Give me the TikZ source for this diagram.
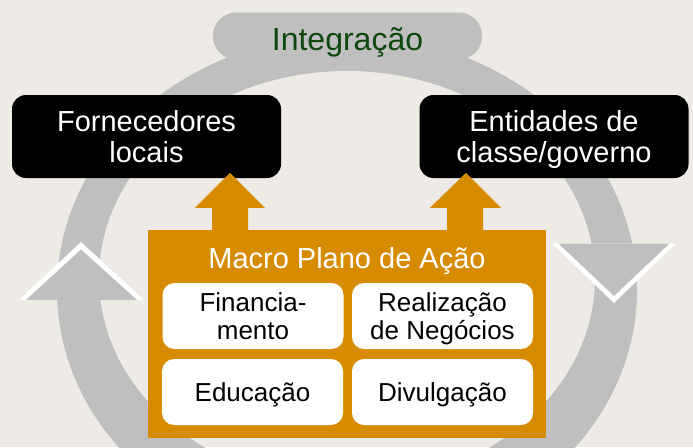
\documentclass[tikz,border=0pt]{standalone}
\usepackage{fontspec}
\setmainfont{Liberation Sans}
\usetikzlibrary{calc}
\definecolor{bg}{RGB}{238,235,230}
\definecolor{ringgray}{RGB}{191,191,191}
\definecolor{org}{RGB}{214,139,0}
\definecolor{dkgreen}{RGB}{12,72,12}
\newcommand\tp{\rule{0pt}{0.95em}}
\newcommand\bt{\rule[-0.234em]{0pt}{0.234em}}
\begin{document}
\begin{tikzpicture}[x=1pt,y=-1pt,
  blackbox/.style={fill=black, rounded corners=14pt, minimum width=269pt, minimum height=83pt, inner sep=0pt, text=white, align=center, font=\fontsize{29}{31}\selectfont},
  whitebox/.style={fill=white, rounded corners=12pt, minimum width=181pt, minimum height=66pt, inner sep=0pt, text=black, align=center, font=\fontsize{26}{27.6}\selectfont},
  pill/.style={fill=ringgray, rounded corners=23pt, minimum width=269pt, minimum height=47pt, inner sep=0pt, text=dkgreen, font=\fontsize{32}{36}\selectfont},
  orangebox/.style={fill=org, minimum width=398pt, minimum height=208pt, inner sep=0pt},
  titletext/.style={text=white, inner sep=0pt, font=\fontsize{29}{31}\selectfont},
  blockarrow/.style={fill=org}
]
\useasboundingbox (0,0) rectangle (693,447);
\clip (0,0) rectangle (693,447);
\fill[bg] (0,0) rectangle (693,447);
% ring
\fill[ringgray, even odd rule] (347,290) ellipse [x radius=290, y radius=255]
                               (347,278) ellipse [x radius=248, y radius=207];
% arrowheads of the ring
\fill[white] (19,300) -- (81,242) -- (144,300) -- cycle;
\fill[ringgray] (26,300) -- (81,249.5) -- (137,300) -- cycle;
\fill[white] (552,243.5) -- (676,243.5) -- (614,303) -- cycle;
\fill[ringgray] (558.5,243.5) -- (669.5,243.5) -- (614,296) -- cycle;
% top label
\node[pill] (integ) at (347.5,36) {\rule{0pt}{1.1em}Integração\rule[-0.22em]{0pt}{0.22em}};
% black boxes
\node[blackbox] (forn) at (146.5,136.5) {\tp Fornecedores\\locais\bt};
\node[blackbox] (ent) at (554,136.5) {\tp Entidades de\\classe/governo\bt};
% orange box
\node[orangebox] (plano) at (347,334) {};
\fill[blockarrow] ([xshift=-135pt]plano.north) -- ++(0,-22) -- ++(-17,0) -- ++(35,-35) -- ++(35,35) -- ++(-17,0) -- ++(0,22) -- cycle;
\fill[blockarrow] ([xshift=100pt]plano.north) -- ++(0,-22) -- ++(-17,0) -- ++(36,-35) -- ++(35,35) -- ++(-18,0) -- ++(0,22) -- cycle;
\node[titletext] (macro) at (347,258.3) {\tp Macro Plano de Ação\bt};
% white boxes
\node[whitebox] (fin) at (253,316) {\tp Financia-\\mento\bt};
\node[whitebox] (real) at (442.5,316) {\tp Realização\\de Negócios\bt};
\node[whitebox] (edu) at (252.5,392) {\tp Educação\bt};
\node[whitebox] (div) at (442.5,392) {\tp Divulgação\bt};
\end{tikzpicture}
\end{document}
